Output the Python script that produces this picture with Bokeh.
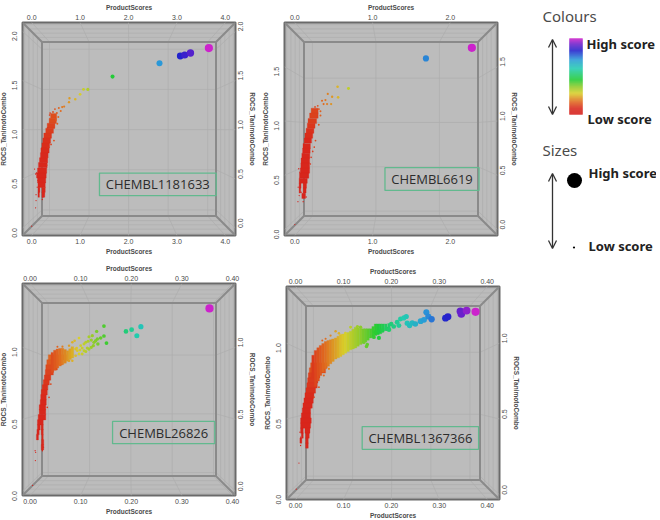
from bokeh.plotting import figure
from bokeh.layouts import column, row
from bokeh.models import (ColumnDataSource, Range1d, FixedTicker, LinearColorMapper, Arrow, OpenHead, LinearAxis)
from bokeh.core.properties import value
from bokeh.embed import file_html
from bokeh.resources import INLINE
import numpy as np
import math

# ---- palette of the colour legend (position, colour)
stop_pos = [0.0, 0.07, 0.16, 0.27, 0.36, 0.45, 0.60, 0.72, 0.84, 0.93, 1.0]
stop_col = ["#d6201c", "#d8281c", "#e06a20", "#d9cf2a", "#8ccc2a", "#22cc33",
            "#22ccb0", "#2a9ad8", "#2222cc", "#7020cc", "#cc22cc"]

# ---- CHEMBL1181633
p1_xticks = [0, 1, 2, 3, 4]
p1_yticks = [0, 0.5, 1.0, 1.5, 2.0]
p1_rows_y  = [1.14, 1.09, 1.04, .99, .94, .89, .84, .79, .74, .69, .64, .585, .535, .485, .44, .39, .39, .34, .34]
p1_rows_xl = [.39, .36, .32, .29, .25, .23, .21, .19, .18, .16, .14, .12, .10, .12, .13, .13, .21, .13, .21]
p1_rows_xr = [.515, .51, .48, .45, .41, .39, .37, .36, .34, .33, .32, .31, .30, .29, .28, .17, .28, .16, .27]
p1_x = [3.66, 3.28, 3.16, 3.07, 2.64, 1.67, 1.16, 1.07, 1.0, .90, .78, .77, .67, .63, .56, .60, .52, .48, .44,
        .10, .09, .22, .23, .09, .0, .38, .55, .50, .33, .37,
        .08, .25, .115, .08, .13, .32, .337, .46, .06, .40, .36, .31, .53, .28]
p1_y = [1.83, 1.78, 1.76, 1.75, 1.675, 1.54, 1.41, 1.41, 1.36, 1.31, 1.32, 1.28, 1.235, 1.23, 1.22, 1.19, 1.17, 1.21, 1.18,
        .56, .28, .29, .31, .34, .02, 1.17, 1.13, 1.1, 1.02, 1.15,
        .206, .35, .416, .55, .484, .72, .82, .89, .60, .85, .93, .64, 1.06, .57]

# ---- CHEMBL6619
p2_xticks = [0, 1, 2]
p2_yticks = [0, 0.5, 1.0, 1.5]
p2_rows_y  = [1.095, 1.05, 1.0, .957, .91, .865, .82, .77, .727, .68, .635, .59, .543, .497, .45, .405, .405, .36, .36, .31]
p2_rows_xl = [.21, .19, .17, .16, .145, .13, .12, .105, .10, .09, .08, .077, .07, .06, .055, .055, .107, .055, .107, .09]
p2_rows_xr = [.30, .30, .28, .26, .245, .23, .215, .20, .197, .193, .19, .19, .19, .18, .16, .08, .15, .075, .145, .137]
p2_x = [2.278, 1.687, .69, .557, .55, .48, .467, .424, .415, .394, .37, .35, .295, .04, .107, .0, .26, .31, .33,
        .056, .081, .146, .043, .2, .21, .266, .308, .33, .064, .05, .23, .25]
p2_y = [1.675, 1.577, 1.30, 1.218, 1.316, 1.224, 1.156, 1.25, 1.156, 1.193, 1.156, 1.187, 1.14, .257, .257, .046, 1.13, 1.11, 1.09,
        .313, .344, .30, .39, .604, .665, .82, .966, 1.05, .528, .56, .72, .76]

# ---- CHEMBL26826
p3_xticks = [0, .1, .2, .3, .4]
p3_yticks = [0, 0.5, 1.0]
p3_rows_y  = [.93, .896, .861, .826, .79, .757, .722, .688, .653, .618, .583, .549, .514, .479, .444, .444, .41, .41, .375, .375, .34, .305]
p3_rows_xl = [.036, .033, .031, .03, .028, .026, .024, .022, .021, .020, .018, .018, .016, .0145, .0145, .022, .0135, .022, .0125, .023, .0225, .022]
p3_rows_xr = [.074, .064, .054, .046, .041, .038, .035, .034, .032, .032, .031, .031, .031, .026, .020, .026, .018, .026, .0165, .026, .027, .027]
p3_cols_x  = [.044, .049, .054, .059, .064, .069, .074, .079, .0835]
p3_cols_lo = [.826, .84, .856, .87, .88, .89, .903, .915, .926]
p3_cols_hi = [.965, .98, .988, .992, .993, .985, .977, .99, 1.005]
p3_x = [.3546, .219, .2007, .211, .1895, .151, .146, .146, .1395, .134, .1316, .1296, .125, .123, .121, .1164, .113, .11,
        .1066, .103, .10, .0967, .0934, .090, .011, .0105, .005,
        .054, .064, .077, .0835, .088, .077, .0835, .09, .0967, .103, .11, .1164, .121, .0987, .092, .1066, .1145, .1263, .133,
        .0145, .01, .0243, .0263, .034, .0375, .041]
p3_y = [1.271, 1.144, 1.123, 1.081, 1.111, 1.03, 1.148, 1.079, 1.065, 1.023, 1.111, 1.046, 1.012, 1.081, 1.051, 1.074, .995, 1.035,
        .977, .995, 1.012, 1.065, .977, .988, .27, .213, .04,
        1.005, 1.005, 1.012, 1.035, 1.046, .907, .907, .942, .954, .954, .972, .988, 1.0, .981, .995, 1.023, 1.042, 1.035, 1.058,
        .398, .282, .282, .305, .583, .653, .745]

# ---- CHEMBL1367366
p4_xticks = [0, .1, .2, .3, .4]
p4_yticks = [0, 0.5, 1.0]
p4_rows_y  = [.853, .82, .787, .754, .721, .688, .655, .622, .589, .556, .523, .49, .457, .424, .424, .391, .391, .358, .358, .325]
p4_rows_xl = [.0313, .0285, .0264, .025, .0236, .0216, .0195, .0174, .0153, .0139, .012, .0104, .0104, .0104, .0195, .012, .021, .009, .021, .021]
p4_rows_xr = [.066, .0626, .0508, .0466, .0452, .0417, .0383, .0369, .0348, .0313, .0313, .0327, .0313, .016, .03, .016, .0285, .013, .0264, .0264]
p4_cols_x  = [.0365, .0417, .047, .052, .0573, .0626, .068, .073, .078, .0835, .089, .094, .099, .104, .1095, .1148, .12, .125, .13, .1357, .141, .146, .151, .1565, .162, .167, .172, .177, .182, .188, .195]
p4_cols_lo = [.78, .714, .75, .787, .81, .831, .848, .864, .88, .895, .904, .912, .923, .934, .945, .956, .962, .969, .98, .991, .999, 1.007, 1.02, 1.035, 1.043, 1.051, 1.056, 1.062, 1.073, 1.084, 1.095]
p4_cols_hi = [.92, .952, .97, .985, .998, 1.011, 1.017, 1.022, 1.028, 1.035, 1.046, 1.057, 1.06, 1.062, 1.07, 1.079, 1.092, 1.105, 1.10, 1.095, 1.095, 1.095, 1.095, 1.095, 1.11, 1.127, 1.127, 1.127, 1.127, 1.127, 1.13]
p4_x = [.3757, .357, .346, .344, .318, .313, .284, .277, .273, .268, .261, .25, .2435, .238, .233, .231, .226, .219, .2157, .212, .205, .1997,
        .195, .19, .181, .174, .167, .148, .1357, .129, .104, .0835, .0557, .0104, .007, .0014,
        .0278, .009, .0139, .0383, .0487, .059, .0696, .0626, .073, .0904, .1148, .1426, .1496, .1635, .174, .0104]
p4_y = [1.207, 1.215, 1.193, 1.211, 1.174, 1.165, 1.158, 1.176, 1.204, 1.154, 1.145, 1.127, 1.134, 1.116, 1.132, 1.176, 1.167, 1.16, 1.116, 1.138, 1.11, 1.127,
        1.088, 1.095, 1.084, 1.079, 1.0725, .978, 1.105, 1.11, 1.066, 1.079, 1.018, .325, .209, .037,
        .468, .413, .457, .644, .71, .787, .831, 1.029, 1.05, 1.066, 1.105, 1.007, .991, 1.04, 1.035, .38]

# ---- panel names
names = ["CHEMBL1181633", "CHEMBL6619", "CHEMBL26826", "CHEMBL1367366"]
legend_texts = ["Colours", "High score", "Low score", "Sizes", "High score", "Low score"]

positions = np.array(stop_pos)
rgb = np.array([[int(c[i:i + 2], 16) for i in (1, 3, 5)] for c in stop_col], dtype=float)
grid_t = np.linspace(0, 1, 256)
palette = ["#%02x%02x%02x" % tuple(int(round(np.interp(t, positions, rgb[:, k]))) for k in range(3)) for t in grid_t]

GREY = "#bcbcbc"
DEPTH = 0.817
TXT = "#4a4a4a"
AX_FONT = "Liberation Sans"
BL, BR, BT, BB = 30, 26, 24, 22   # fixed borders round each frame


def panel(frame, margin, xr, yr, xticks, yticks, ydec, xfmt, name, box, pts, rows, cols=None, font=13):
    p = figure(frame_width=frame[0], frame_height=frame[1], output_backend="svg", toolbar_location=None,
               x_range=Range1d(*xr), y_range=Range1d(*yr),
               x_axis_type=None, y_axis_type=None, frame_align=False, margin=margin,
               min_border_left=BL, min_border_right=BR, min_border_top=BT, min_border_bottom=BB)
    p.background_fill_color = GREY
    p.border_fill_color = None
    p.outline_line_color = "#6a6a6a"
    p.outline_line_width = 2

    # decoration: perspective box
    cx, cy = sum(xr) / 2, sum(yr) / 2
    px = lambda v, k: cx + (v - cx) * k
    py = lambda v, k: cy + (v - cy) * k
    fx0, fx1, fy0, fy1 = [], [], [], []
    for t in xticks:
        fx0 += [px(t, DEPTH), t, t]
        fy0 += [py(yr[0], DEPTH), yr[0], yr[1]]
        fx1 += [px(t, DEPTH), px(t, DEPTH), px(t, DEPTH)]
        fy1 += [py(yr[1], DEPTH), py(yr[0], DEPTH), py(yr[1], DEPTH)]
    for t in yticks:
        fx0 += [px(xr[0], DEPTH), xr[0], xr[1]]
        fy0 += [py(t, DEPTH), t, t]
        fx1 += [px(xr[1], DEPTH), px(xr[0], DEPTH), px(xr[1], DEPTH)]
        fy1 += [py(t, DEPTH), py(t, DEPTH), py(t, DEPTH)]
    for k in (0.86, 0.90, 0.94, 0.98):
        fx0 += [px(xr[0], k), px(xr[1], k), px(xr[0], k), px(xr[0], k)]
        fx1 += [px(xr[0], k), px(xr[1], k), px(xr[1], k), px(xr[1], k)]
        fy0 += [py(yr[0], k), py(yr[0], k), py(yr[0], k), py(yr[1], k)]
        fy1 += [py(yr[1], k), py(yr[1], k), py(yr[0], k), py(yr[1], k)]
    p.segment(fx0, fy0, fx1, fy1, line_color="#adadad", line_width=0.7)
    cxs, cys = [xr[0], xr[1], xr[0], xr[1]], [yr[0], yr[0], yr[1], yr[1]]
    p.segment(cxs, cys, [px(v, DEPTH) for v in cxs], [py(v, DEPTH) for v in cys], line_color="#8a8a8a", line_width=2)
    p.quad(left=px(xr[0], DEPTH), right=px(xr[1], DEPTH), bottom=py(yr[0], DEPTH), top=py(yr[1], DEPTH),
           fill_color=None, line_color="#8a8a8a", line_width=2)

    # data
    xs, ys = np.array(pts[0], float), np.array(pts[1], float)
    top_x = xs.max()
    mapper = LinearColorMapper(palette=palette, low=0, high=top_x)
    ry, rl, rr = map(np.array, rows)
    rstep = np.median(np.abs(np.diff(ry)))
    p.hbar(y="y", left="l", right="r", height=rstep * 1.05,
           source=ColumnDataSource(dict(y=ry, l=rl, r=rr, m=(rl + rr) / 2)),
           fill_color={"field": "m", "transform": mapper}, line_color={"field": "m", "transform": mapper}, line_width=0.3)
    if cols is not None:
        cx_, clo, chi = map(np.array, cols)
        cstep = np.median(np.diff(cx_))
        p.vbar(x="x", bottom="b", top="t", width=cstep * 1.05,
               source=ColumnDataSource(dict(x=cx_, b=clo, t=chi)),
               fill_color={"field": "x", "transform": mapper}, line_color={"field": "x", "transform": mapper}, line_width=0.3)
    sizes = 1.2 + 7.0 * (xs / top_x) ** 1.15
    order = np.argsort(xs)
    p.scatter(x="x", y="y", size="s",
              source=ColumnDataSource(dict(x=xs[order], y=ys[order], s=sizes[order])),
              fill_color={"field": "x", "transform": mapper}, line_color=None)

    # name box
    p.quad(left=box[0], right=box[1], bottom=box[2], top=box[3], fill_color=None, line_color="#62b98e", line_width=1.3)
    p.text(x=[(box[0] + box[1]) / 2], y=[(box[2] + box[3]) / 2], text=[name], text_align="center", text_baseline="middle",
           text_font=value("Open Sans"), text_font_size=f"{font}px", text_color="#2c2c2c")

    # four axes
    for side, lab in (("below", "ProductScores"), ("above", "ProductScores"),
                      ("left", "ROCS_TanimotoCombo"), ("right", "ROCS_TanimotoCombo")):
        ax = LinearAxis(axis_label=lab)
        ticks, dec = (xticks, xfmt) if side in ("below", "above") else (yticks, ydec)
        ax.ticker = FixedTicker(ticks=list(ticks))
        ax.major_label_overrides = {t: f"{t:.{dec}f}" for t in ticks}
        ax.axis_line_color = None
        ax.major_tick_line_color = None
        ax.minor_tick_line_color = None
        ax.major_tick_out = 0
        ax.major_tick_in = 0
        ax.major_label_text_font = AX_FONT
        ax.major_label_text_font_size = "7px"
        ax.major_label_text_color = TXT
        ax.axis_label_text_font = AX_FONT
        ax.axis_label_text_font_size = "6.5px"
        ax.axis_label_text_font_style = "bold"
        ax.axis_label_text_color = TXT
        ax.major_label_standoff = 3
        ax.axis_label_standoff = 1
        if side in ("left", "right"):
            ax.major_label_orientation = math.pi / 2
            ax.major_label_standoff = 8 if side == "left" else 5
            ax.axis_label_standoff = 0
        p.add_layout(ax, side)
    return p


# margins = (top, right, bottom, left), placing each frame at its place on the page
p1 = panel((213, 213), (-2, 0, 0, -8), (-0.19, 4.21), (-0.075, 2.09), p1_xticks, p1_yticks, 1, 1, names[0],
           (1.40, 3.81, .33, .56), (p1_x, p1_y), (p1_rows_y, p1_rows_xl, p1_rows_xr))
p2 = panel((213, 213), (-2, 0, 0, -7), (-0.133, 2.608), (-0.055, 1.908), p2_xticks, p2_yticks, 1, 1, names[1],
           (1.16, 2.37, .36, .57), (p2_x, p2_y), (p2_rows_y, p2_rows_xl, p2_rows_xr))
p3 = panel((213, 212), (-1, 0, 0, -8), (-0.015, 0.406), (-0.03, 1.444), p3_xticks, p3_yticks, 1, 2, names[2],
           (.163, .365, .33, .485), (p3_x, p3_y), (p3_rows_y, p3_rows_xl, p3_rows_xr), (p3_cols_x, p3_cols_lo, p3_cols_hi))
p4 = panel((213, 213), (2, 0, 0, -5), (-0.019, 0.4257), (-0.031, 1.374), p4_xticks, p4_yticks, 1, 2, names[3],
           (.139, .382, .30, .45), (p4_x, p4_y), (p4_rows_y, p4_rows_xl, p4_rows_xr), (p4_cols_x, p4_cols_lo, p4_cols_hi))

# legend panel, ranges equal to page pixels
leg = figure(width=141, height=260, output_backend="svg", toolbar_location=None, x_axis_type=None, y_axis_type=None,
             x_range=Range1d(515, 656), y_range=Range1d(260, 0), min_border=0, frame_align=False, margin=(0, 0, 0, -8))
leg.outline_line_color = None
leg.background_fill_color = None
leg.border_fill_color = None
bar_n = 76
bar_t = np.linspace(1, 0, bar_n)
bar_cols = [palette[int(t * 255)] for t in bar_t]
bar_top = 38 + np.arange(bar_n)
leg.quad(left=569, right=582, top=bar_top, bottom=bar_top + 1, fill_color=bar_cols, line_color=bar_cols, line_width=0.3)
for y0, y1 in ((39, 114), (173, 248)):
    leg.add_layout(Arrow(x_start=552, y_start=y0, x_end=552, y_end=y1, line_color="#333333", line_width=1.3,
                         start=OpenHead(size=8, line_color="#333333", line_width=1.3),
                         end=OpenHead(size=8, line_color="#333333", line_width=1.3)))
leg.scatter([574], [180], size=15, fill_color="black", line_color=None)
leg.scatter([573.5], [247], size=2.2, fill_color="black", line_color=None)
leg.text([542, 542], [15, 149], text=[legend_texts[0], legend_texts[3]], text_baseline="middle",
         text_font=value("Noto Sans"), text_font_size="15px", text_color="#4a4a4a")
leg.text([586, 587, 588, 588], [43, 118, 172, 245], text=[legend_texts[1], legend_texts[2], legend_texts[4], legend_texts[5]],
         text_baseline="middle", text_font=value("Noto Sans"), text_font_size="13px", text_font_style="bold", text_color="#222222")

page = column(row(p1, p2, leg, spacing=0), row(p3, p4, spacing=0), spacing=0)
open("out.html", "w").write(file_html(page, INLINE))
